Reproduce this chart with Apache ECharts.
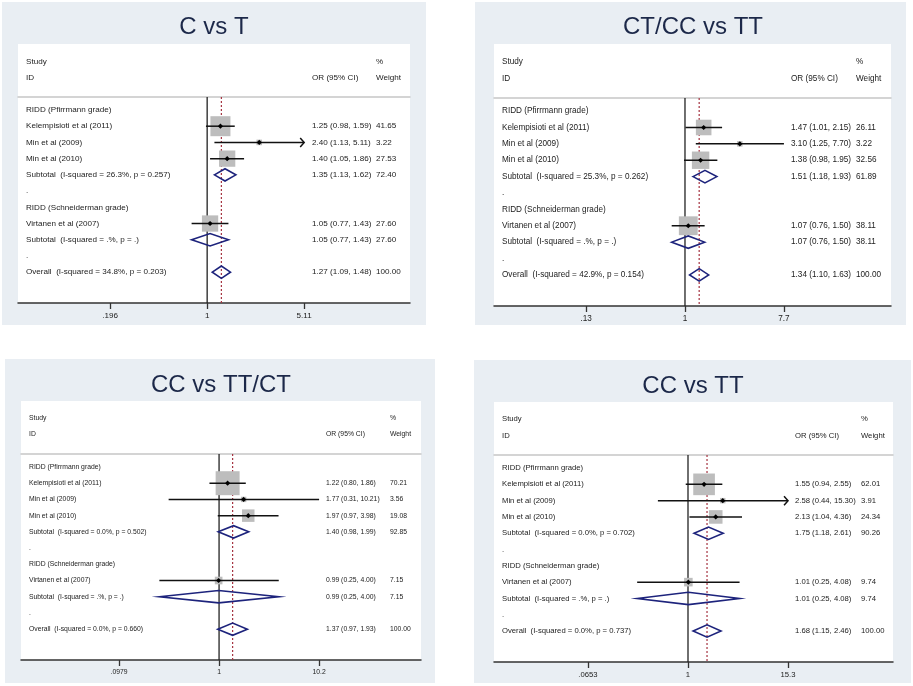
<!DOCTYPE html>
<html>
<head>
<meta charset="utf-8">
<script src="https://cdn.jsdelivr.net/npm/echarts@6.0.0/dist/echarts.min.js"></script>
<style>
html,body{margin:0;padding:0;background:#ffffff;}
#chart{width:913px;height:686px;}
</style>
</head>
<body>
<div id="chart"></div>
<script>
// ---------------- DATA ----------------
const panelTitles = ["C vs T", "CT/CC vs TT", "CC vs TT/CT", "CC vs TT"];
const groupNames = ["RIDD (Pfirrmann grade)", "RIDD (Schneiderman grade)"];
const studyNames = ["Kelempisioti et al (2011)", "Min et al (2009)", "Min et al (2010)", "Virtanen et al (2007)"];
const tickValues = [[0.196, 1, 5.11], [0.13, 1, 7.7], [0.0979, 1, 10.2], [0.0653, 1, 15.3]];
const tickLabels = [[".196", "1", "5.11"], [".13", "1", "7.7"], [".0979", "1", "10.2"], [".0653", "1", "15.3"]];

const studyOR = [[1.25, 2.40, 1.40, 1.05], [1.47, 3.10, 1.38, 1.07], [1.22, 1.77, 1.97, 0.99], [1.55, 2.58, 2.13, 1.01]];
const studyLo = [[0.98, 1.13, 1.05, 0.77], [1.01, 1.25, 0.98, 0.76], [0.80, 0.31, 0.97, 0.25], [0.94, 0.44, 1.04, 0.25]];
const studyHi = [[1.59, 5.11, 1.86, 1.43], [2.15, 7.70, 1.95, 1.50], [1.86, 10.21, 3.98, 4.00], [2.55, 15.30, 4.36, 4.08]];
const studyW = [[41.65, 3.22, 27.53, 27.60], [26.11, 3.22, 32.56, 38.11], [70.21, 3.56, 19.08, 7.15], [62.01, 3.91, 24.34, 9.74]];
const studyArrow = [[0, 1, 0, 0], [0, 0, 0, 0], [0, 0, 0, 0], [0, 1, 0, 0]];

// pooled: [Pfirrmann subtotal, Schneiderman subtotal, Overall]
const pooledOR = [[1.35, 1.05, 1.27], [1.51, 1.07, 1.34], [1.40, 0.99, 1.37], [1.75, 1.01, 1.68]];
const pooledLo = [[1.13, 0.77, 1.09], [1.18, 0.76, 1.10], [0.98, 0.25, 0.97], [1.18, 0.25, 1.15]];
const pooledHi = [[1.62, 1.43, 1.48], [1.93, 1.50, 1.63], [1.99, 4.00, 1.93], [2.61, 4.08, 2.46]];
const pooledW = [[72.40, 27.60, 100.00], [61.89, 38.11, 100.00], [92.85, 7.15, 100.00], [90.26, 9.74, 100.00]];
const hetI2 = [["26.3", ".", "34.8"], ["25.3", ".", "42.9"], ["0.0", ".", "0.0"], ["0.0", ".", "0.0"]];
const hetP = [["0.257", ".", "0.203"], ["0.262", ".", "0.154"], ["0.502", ".", "0.660"], ["0.702", ".", "0.737"]];

// ---------------- LAYOUT / STYLE ----------------
const layout = [
  {outer: [2, 2, 424, 323], white: [18, 44, 392, 259], grid: [18, 97, 392, 206], title: [214, 27], xExt: [-3.18, 3.41], cols: [8, 294, 358], font: 8.1, box: 3.1},
  {outer: [475, 2, 431, 323], white: [494, 44, 397, 262], grid: [494, 98, 397, 208], title: [693, 27], xExt: [-3.94, 4.25], cols: [8, 297, 362], font: 8.2, box: 3.05},
  {outer: [5, 359, 430, 324], white: [21, 401, 400, 259], grid: [21, 454, 400, 206], title: [221, 385], xExt: [-4.60, 4.69], cols: [8, 305, 369], font: 6.8, box: 2.86},
  {outer: [474, 360, 437, 323], white: [494, 402, 399, 260], grid: [494, 455, 399, 207], title: [693, 386], xExt: [-5.29, 5.59], cols: [8, 301, 367], font: 7.7, box: 2.75}
];
const Y_MIN = -0.8, Y_MAX = 11.9;
const FONT = '"Liberation Sans", Arial, Helvetica, sans-serif';
const TEXT_COLOR = '#222222';
const BG_COLOR = '#e9eef3';
const TITLE_COLOR = '#1c2849';
const BOX_COLOR = '#bdbdbd';
const DIAMOND_COLOR = '#1d237c';
const REF_COLOR = '#a53341';

function fmtCI(o, l, h) { return o.toFixed(2) + ' (' + l.toFixed(2) + ', ' + h.toFixed(2) + ')'; }

function buildRows(p) {
  const rows = [];
  rows.push({r: -3, a: 'Study', b: '', c: '%'});
  rows.push({r: -2, a: 'ID', b: 'OR (95% CI)', c: 'Weight'});
  rows.push({r: 0, a: groupNames[0], b: '', c: ''});
  for (let i = 0; i < 3; i++) {
    rows.push({r: i + 1, a: studyNames[i], b: fmtCI(studyOR[p][i], studyLo[p][i], studyHi[p][i]), c: studyW[p][i].toFixed(2)});
  }
  rows.push({r: 4, a: 'Subtotal  (I-squared = ' + hetI2[p][0] + '%, p = ' + hetP[p][0] + ')', b: fmtCI(pooledOR[p][0], pooledLo[p][0], pooledHi[p][0]), c: pooledW[p][0].toFixed(2)});
  rows.push({r: 5, a: '.', b: '', c: ''});
  rows.push({r: 6, a: groupNames[1], b: '', c: ''});
  rows.push({r: 7, a: studyNames[3], b: fmtCI(studyOR[p][3], studyLo[p][3], studyHi[p][3]), c: studyW[p][3].toFixed(2)});
  rows.push({r: 8, a: 'Subtotal  (I-squared = ' + hetI2[p][1] + '%, p = ' + hetP[p][1] + ')', b: fmtCI(pooledOR[p][1], pooledLo[p][1], pooledHi[p][1]), c: pooledW[p][1].toFixed(2)});
  rows.push({r: 9, a: '.', b: '', c: ''});
  rows.push({r: 10, a: 'Overall  (I-squared = ' + hetI2[p][2] + '%, p = ' + hetP[p][2] + ')', b: fmtCI(pooledOR[p][2], pooledLo[p][2], pooledHi[p][2]), c: pooledW[p][2].toFixed(2)});
  return rows;
}

function buildMarks(p) {
  // [lnOR, row, lnLo, lnHi, weight, kind(0 study / 1 pooled), arrow]
  const studyRows = [1, 2, 3, 7];
  const pooledRows = [4, 8, 10];
  const d = [];
  for (let i = 0; i < 4; i++) {
    d.push([Math.log(studyOR[p][i]), studyRows[i], Math.log(studyLo[p][i]), Math.log(studyHi[p][i]), studyW[p][i], 0, studyArrow[p][i]]);
  }
  for (let j = 0; j < 3; j++) {
    d.push([Math.log(pooledOR[p][j]), pooledRows[j], Math.log(pooledLo[p][j]), Math.log(pooledHi[p][j]), pooledW[p][j], 1, 0]);
  }
  return d;
}

function markRenderer(p) {
  const L = layout[p];
  return function (params, api) {
    const row = api.value(1);
    const c = api.coord([api.value(0), row]);
    const lo = api.coord([api.value(2), row]);
    const hi = api.coord([api.value(3), row]);
    const kind = api.value(5);
    const ch = [];
    if (kind === 0) {
      const s = Math.sqrt(api.value(4)) * L.box;
      ch.push({type: 'rect', shape: {x: c[0] - s / 2, y: c[1] - s / 2, width: s, height: s}, style: {fill: BOX_COLOR}});
      ch.push({type: 'line', shape: {x1: lo[0], y1: c[1], x2: hi[0], y2: c[1]}, style: {stroke: '#111', lineWidth: 1.5}});
      if (api.value(6)) {
        ch.push({type: 'polyline', shape: {points: [[hi[0] - 4, c[1] - 4.5], [hi[0], c[1]], [hi[0] - 4, c[1] + 4.5]]}, style: {stroke: '#111', lineWidth: 1.5, fill: null}});
      }
      const r = 2.6;
      ch.push({type: 'polygon', shape: {points: [[c[0] - r, c[1]], [c[0], c[1] - r], [c[0] + r, c[1]], [c[0], c[1] + r]]}, style: {fill: '#000'}});
    } else {
      const h = api.size([0, 1])[1] * 0.38;
      ch.push({type: 'polygon', shape: {points: [[lo[0], c[1]], [c[0], c[1] - h], [hi[0], c[1]], [c[0], c[1] + h]]}, style: {fill: null, stroke: DIAMOND_COLOR, lineWidth: 1.6}});
    }
    return {type: 'group', children: ch};
  };
}

function textRenderer(p, rows) {
  const L = layout[p];
  const font = L.font + 'px ' + FONT;
  return function (params, api) {
    const row = rows[params.dataIndex];
    const y = api.coord([0, row.r])[1];
    const x0 = params.coordSys.x;
    const ch = [];
    const texts = [row.a, row.b, row.c];
    for (let k = 0; k < 3; k++) {
      if (!texts[k]) continue;
      ch.push({type: 'text', x: x0 + L.cols[k], y: y,
        style: {text: texts[k], fill: TEXT_COLOR, font: font, align: 'left', verticalAlign: 'middle', textAlign: 'left', textVerticalAlign: 'middle'}});
    }
    return {type: 'group', children: ch};
  };
}

const grids = [], xAxes = [], yAxes = [], series = [], graphics = [];

for (let p = 0; p < 4; p++) {
  const L = layout[p];
  graphics.push({type: 'rect', z: -10, shape: {x: L.outer[0], y: L.outer[1], width: L.outer[2], height: L.outer[3]}, style: {fill: BG_COLOR}});
  graphics.push({type: 'rect', z: -9, shape: {x: L.white[0], y: L.white[1], width: L.white[2], height: L.white[3]}, style: {fill: '#ffffff'}});
  graphics.push({type: 'text', z: 5, x: L.title[0], y: L.title[1],
    style: {text: panelTitles[p], fill: TITLE_COLOR, font: '24px ' + FONT, align: 'center', verticalAlign: 'middle', textAlign: 'center', textVerticalAlign: 'middle'}});

  grids.push({left: L.grid[0], top: L.grid[1], width: L.grid[2], height: L.grid[3], containLabel: false});
  const ticksLn = tickValues[p].map(v => Math.log(v));
  xAxes.push({
    type: 'value', gridIndex: p, position: 'bottom', min: L.xExt[0], max: L.xExt[1],
    axisLine: {show: true, onZero: false, lineStyle: {color: '#333', width: 1.5}},
    axisTick: {show: true, length: 6, inside: false, customValues: ticksLn, lineStyle: {color: '#333', width: 1.3}},
    axisLabel: {show: true, customValues: ticksLn, margin: 9, fontSize: L.font, fontFamily: FONT, color: TEXT_COLOR,
      formatter: function (v) {
        let best = 0, bd = Infinity;
        ticksLn.forEach((t, i) => { const dd = Math.abs(t - v); if (dd < bd) { bd = dd; best = i; } });
        return tickLabels[p][best];
      }},
    splitLine: {show: false}
  });
  xAxes.push({
    type: 'value', gridIndex: p, position: 'top', min: L.xExt[0], max: L.xExt[1],
    axisLine: {show: true, onZero: false, lineStyle: {color: '#c6c6c6', width: 1.5}},
    axisTick: {show: false}, axisLabel: {show: false}, splitLine: {show: false}
  });
  yAxes.push({type: 'value', gridIndex: p, min: Y_MIN, max: Y_MAX, inverse: true, show: false,
    axisLine: {onZero: false}, splitLine: {show: false}});

  // null line at OR = 1
  series.push({type: 'line', xAxisIndex: 2 * p, yAxisIndex: p, data: [[Math.log(1), Y_MIN], [Math.log(1), Y_MAX]],
    symbol: 'none', lineStyle: {color: '#222', width: 1.3}, z: 1, silent: true, animation: false});
  // overall estimate dashed line
  series.push({type: 'line', xAxisIndex: 2 * p, yAxisIndex: p, data: [[Math.log(pooledOR[p][2]), Y_MIN], [Math.log(pooledOR[p][2]), Y_MAX]],
    symbol: 'none', lineStyle: {color: REF_COLOR, width: 1.2, type: [2, 2]}, z: 1, silent: true, animation: false});

  series.push({type: 'custom', xAxisIndex: 2 * p, yAxisIndex: p, data: buildMarks(p), encode: {x: 0, y: 1},
    renderItem: markRenderer(p), z: 3, silent: true, animation: false, clip: false});

  const rows = buildRows(p);
  series.push({type: 'custom', xAxisIndex: 2 * p, yAxisIndex: p, data: rows.map(r => [0, r.r]), encode: {x: 0, y: 1},
    renderItem: textRenderer(p, rows), z: 4, silent: true, animation: false, clip: false});
}

const chart = echarts.init(document.getElementById('chart'), null, {width: 913, height: 686, renderer: 'canvas'});
chart.setOption({
  backgroundColor: '#ffffff',
  animation: false,
  graphic: {elements: graphics},
  grid: grids,
  xAxis: xAxes,
  yAxis: yAxes,
  series: series
});
</script>
</body>
</html>
